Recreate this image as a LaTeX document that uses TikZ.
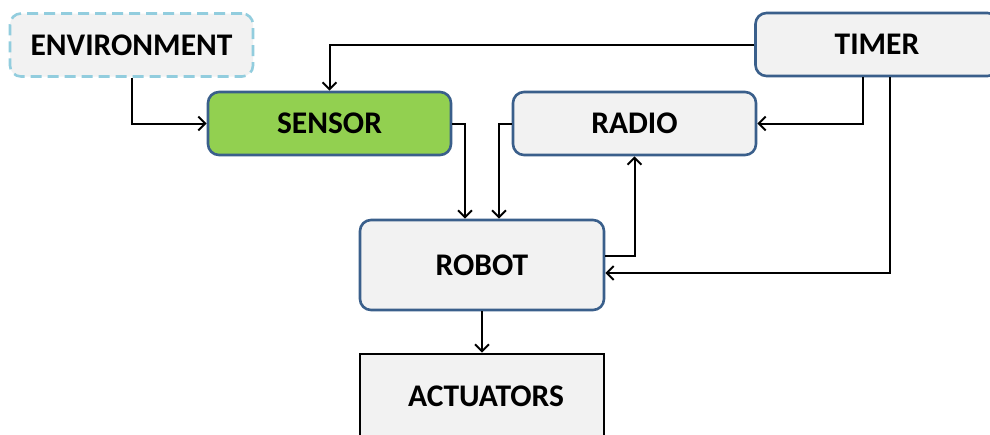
\documentclass[tikz,border=0pt]{standalone}
\usepackage{fontspec}
\setmainfont{Carlito}
\usetikzlibrary{arrows.meta}
\definecolor{boxfill}{RGB}{242,242,242}
\definecolor{boxline}{RGB}{58,95,139}
\definecolor{envline}{RGB}{146,205,222}
\definecolor{sensorgreen}{RGB}{146,208,80}
\tikzset{
  lbl/.style={font=\fontsize{31.5}{36}\selectfont\bfseries},
  blk/.style={draw=boxline, line width=2.6pt, fill=boxfill, rounded corners=11pt,
    minimum width=243pt, minimum height=63pt, inner sep=0pt, lbl},
  envbox/.style={blk, draw=envline, dash pattern=on 11pt off 6pt},
  actbox/.style={blk, draw=black, rounded corners=0pt},
  arr/.style={line width=2pt, -{Straight Barb[length=7pt,width=14pt,line width=2pt]}},
}
\begin{document}
\begin{tikzpicture}[x=1pt,y=-1pt]
\clip (0,0) rectangle (990,434);
\useasboundingbox (0,0) rectangle (990,434);
\fill[white] (0,0) rectangle (990,434);
\node[envbox] (env) at (131.5,45) {ENVIRONMENT};
\node[blk, fill=sensorgreen] (sensor) at (329.5,123.5) {SENSOR};
\node[blk] (radio) at (634.5,123.5) {RADIO};
\node[blk] (timer) at (877,44.5) {TIMER};
\node[blk, minimum width=244pt, minimum height=90pt] (robot) at (482,265) {ROBOT};
\node[actbox, minimum width=244pt, minimum height=86pt] (act) at (482,397) {};
\node[lbl] (acttext) at (486,396) {ACTUATORS};
\draw[arr] (env.south) |- (sensor.west);
\draw[arr] (timer.west) -| (sensor.north);
\draw[arr] (sensor.east) -| ([xshift=-17pt]robot.north);
\draw[arr] (radio.west) -| ([xshift=17pt]robot.north);
\draw[arr] ([yshift=9pt]robot.east) -| (radio.south);
\draw[arr] ([xshift=-14pt]timer.south) |- (radio.east);
\draw[arr] ([xshift=13pt]timer.south) |- ([yshift=-8pt]robot.east);
\draw[arr] (robot.south) -- (act.north);
\end{tikzpicture}
\end{document}
